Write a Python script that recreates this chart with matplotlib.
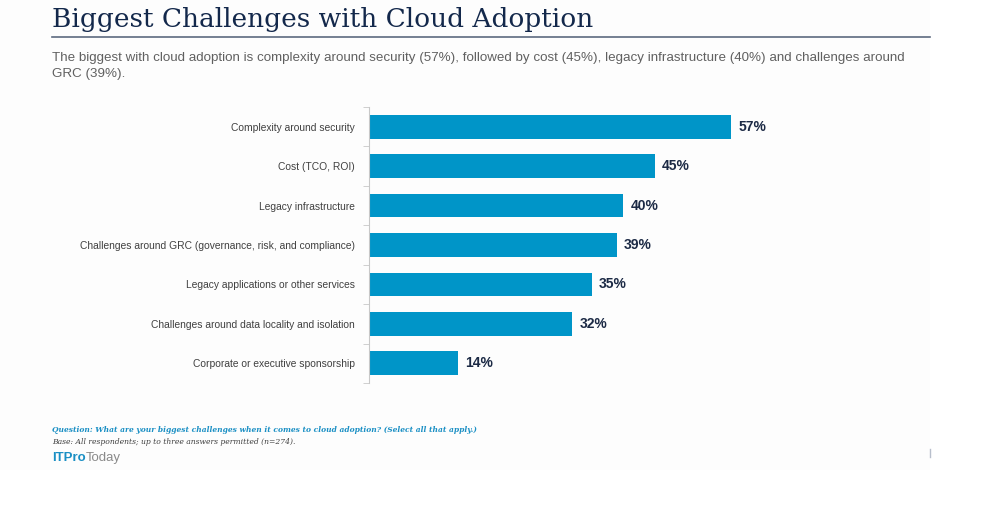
import matplotlib.pyplot as plt
from matplotlib.patches import Rectangle

categories = [
    "Complexity around security",
    "Cost (TCO, ROI)",
    "Legacy infrastructure",
    "Challenges around GRC (governance, risk, and compliance)",
    "Legacy applications or other services",
    "Challenges around data locality and isolation",
    "Corporate or executive sponsorship",
]
values = [57, 45, 40, 39, 35, 32, 14]

title = "Biggest Challenges with Cloud Adoption"
subtitle = ("The biggest with cloud adoption is complexity around security (57%), followed by cost (45%), "
            "legacy infrastructure (40%) and challenges around\nGRC (39%).")
question = "Question: What are your biggest challenges when it comes to cloud adoption? (Select all that apply.)"
base = "Base: All respondents; up to three answers permitted (n=274)."

W, H = 1007, 507
fig = plt.figure(figsize=(W / 100, H / 100), dpi=100)
fig.patches.append(Rectangle((0, 1 - 470 / H), 930 / W, 470 / H, transform=fig.transFigure,
                             facecolor="#fdfdfd", edgecolor="none", zorder=-1))

# title + rule
fig.text(52 / W, 1 - 20 / H, title, family="DejaVu Serif", fontsize=19, color="#13284b", va="center")
fig.add_artist(plt.Line2D([52 / W, 930 / W], [1 - 37 / H, 1 - 37 / H], color="#5d6a80", lw=1.2))
fig.text(52 / W, 1 - 66 / H, subtitle, family="Liberation Sans", fontsize=9.6, color="#606060",
         va="center", linespacing=1.35)

# bars
ax = fig.add_axes([369 / W, 124 / H, 445 / W, 276 / H])
ax.set_facecolor("none")
ypos = list(range(len(categories)))
ax.barh(ypos, values, height=0.6, color="#0095c8")
ax.set_ylim(len(categories) - 0.5, -0.5)
ax.set_xlim(0, 70)
for y, v in zip(ypos, values):
    ax.text(v + 1.1, y, f"{v}%", va="center", ha="left", family="Liberation Sans",
            fontsize=10, fontweight="bold", color="#1c2a45")

ax.set_yticks(ypos)
ax.set_yticklabels(categories, family="Liberation Sans", fontsize=7.4, color="#404040")
ax.tick_params(axis="y", which="major", length=0, pad=10)
ax.set_yticks([i - 0.5 for i in range(len(categories) + 1)], minor=True)
ax.tick_params(axis="y", which="minor", length=4, color="#c8c8c8")
ax.set_xticks([])
for s in ["top", "right", "bottom"]:
    ax.spines[s].set_visible(False)
ax.spines["left"].set_color("#c8c8c8")

# footer
fig.text(52 / W, 1 - 430 / H, question, family="DejaVu Serif", fontsize=5.4, fontweight="bold",
         style="italic", color="#1a8fc4", va="center")
fig.text(52 / W, 1 - 442 / H, base, family="DejaVu Serif", fontsize=5.5, style="italic",
         color="#404040", va="center")
t1 = fig.text(52 / W, 1 - 458 / H, "ITPro", family="Liberation Sans", fontsize=9.5,
              fontweight="bold", color="#1a8fc4", va="center")
fig.canvas.draw()
bb = t1.get_window_extent()
fig.text(bb.x1 / W, 1 - 458 / H, "Today", family="Liberation Sans", fontsize=9.5,
         color="#8a8a8a", va="center")
fig.add_artist(plt.Line2D([930 / W, 930 / W], [1 - 449 / H, 1 - 457 / H], color="#b8bfcc", lw=1))

fig.savefig("out.png", dpi=100, facecolor="white")
